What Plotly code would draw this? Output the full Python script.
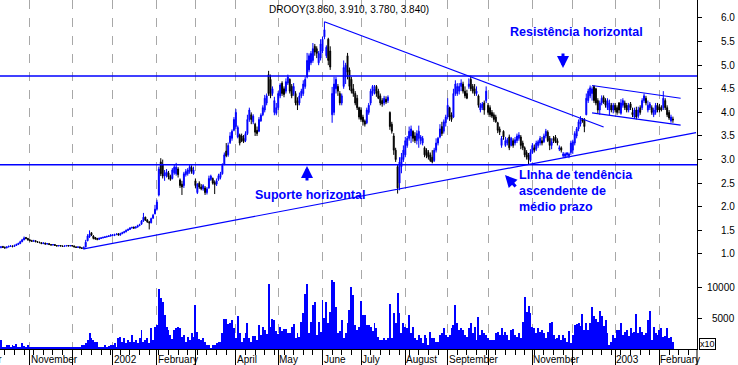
import pandas as pd
import plotly.graph_objects as go

# ---------------- data (daily bars) ----------------
start_date = "2001-10-11"
title_text = "DROOY(3.860, 3.910, 3.780, 3.840)"

open_ = [
    # Oct 2001
    1.14,1.16,1.14,1.13,1.15,1.16,1.17,1.16,1.18,1.20,1.22,1.26,1.30,1.35,1.33,
    # Nov 2001
    1.30,1.28,1.27,1.28,1.26,1.25,1.24,1.22,1.23,1.21,1.22,1.20,1.19,1.20,1.18,1.17,1.18,1.17,1.16,1.17,1.18,1.17,
    # Dec 2001
    1.18,1.17,1.15,1.14,1.15,1.13,1.11,1.15,1.28,1.36,1.45,1.38,1.35,1.33,1.31,1.33,1.34,1.35,1.36,1.37,1.38,
    # Jan 2002
    1.40,1.39,1.41,1.43,1.40,1.43,1.45,1.47,1.50,1.52,1.55,1.57,1.55,1.57,1.60,1.63,1.70,1.78,1.72,1.68,1.66,1.76,1.85,
    # Feb 2002
    1.95,2.25,2.95,2.90,2.65,2.66,2.72,2.64,2.60,2.72,2.70,2.80,2.57,2.48,2.45,2.68,2.70,2.75,2.83,2.70,
    # Mar 2002
    2.55,2.30,2.50,2.42,2.38,2.40,2.30,2.40,2.58,2.60,2.52,2.48,2.58,2.62,2.70,2.90,3.18,3.10,3.36,3.45,3.62,
    # Apr 2002
    3.70,3.48,3.52,3.50,3.45,3.40,3.55,3.85,3.95,3.80,3.75,3.62,3.60,3.82,3.95,4.05,4.20,4.80,4.70,4.40,4.00,3.98,
    # May 2002
    4.10,4.35,4.62,4.50,4.45,4.62,4.70,4.55,4.40,4.40,4.25,4.20,4.35,4.40,4.55,4.75,4.90,5.05,5.10,5.40,5.35,5.05,5.15,
    # Jun 2002
    5.30,5.60,5.20,5.55,5.30,3.95,4.00,4.50,4.55,4.40,4.20,4.55,4.75,5.20,4.90,4.70,4.50,4.40,4.30,4.10,
    # Jul 2002
    4.05,3.90,3.82,3.78,4.00,4.20,4.40,4.45,4.55,4.45,4.35,4.25,4.20,4.28,4.25,4.00,3.75,3.50,3.20,2.85,2.50,2.85,3.00,
    # Aug 2002
    3.10,3.30,3.45,3.50,3.60,3.50,3.40,3.45,3.40,3.35,3.25,3.20,3.15,3.10,3.05,2.98,3.20,3.35,3.48,3.70,3.60,3.78,
    # Sep 2002
    3.90,4.10,3.95,3.90,4.40,4.40,4.45,4.55,4.60,4.45,4.40,4.55,4.70,4.55,4.50,4.40,4.35,4.05,4.10,4.20,4.25,
    # Oct 2002
    4.15,4.10,4.00,3.95,3.90,3.78,3.65,3.30,3.60,3.30,3.35,3.48,3.30,3.40,3.35,3.40,3.45,3.48,3.35,3.25,3.15,3.10,2.98,
    # Nov 2002
    3.15,3.25,3.22,3.30,3.35,3.40,3.38,3.50,3.58,3.45,3.30,3.45,3.48,3.40,3.22,3.25,3.08,3.07,3.10,3.08,3.15,
    # Dec 2002
    3.20,3.35,3.50,3.65,3.75,3.85,3.85,3.95,4.25,4.35,4.40,4.55,4.50,4.25,4.05,4.20,4.32,4.25,4.10,4.05,4.15,4.05,
    # Jan 2003
    4.15,4.10,4.20,3.98,4.15,4.20,4.15,4.05,4.18,4.00,3.90,4.05,3.92,4.10,4.10,4.25,4.30,4.05,4.10,4.10,3.95,4.00,4.15,
    # Feb 2003
    4.12,4.10,4.10,4.25,4.10,4.00,3.82,3.86,
]

high = [
    1.17,1.17,1.16,1.16,1.18,1.19,1.18,1.20,1.22,1.24,1.28,1.32,1.37,1.36,1.34,
    1.31,1.30,1.30,1.29,1.27,1.26,1.25,1.25,1.24,1.23,1.23,1.21,1.21,1.21,1.19,1.19,1.19,1.18,1.18,1.19,1.19,1.19,
    1.19,1.18,1.16,1.16,1.16,1.14,1.16,1.30,1.42,1.50,1.46,1.40,1.36,1.34,1.35,1.36,1.37,1.38,1.39,1.40,1.42,
    1.42,1.43,1.44,1.44,1.45,1.47,1.49,1.52,1.54,1.57,1.58,1.58,1.59,1.62,1.64,1.72,1.87,1.79,1.74,1.70,1.77,1.85,2.04,
    2.15,2.85,3.03,3.00,2.78,2.80,2.76,2.68,2.82,2.90,2.93,2.84,2.60,2.55,2.74,2.80,2.82,2.90,2.88,2.85,
    2.60,2.50,2.54,2.48,2.48,2.44,2.42,2.66,2.68,2.62,2.56,2.60,2.70,2.74,2.92,3.15,3.35,3.36,3.58,3.64,3.90,
    4.07,3.72,3.55,3.55,3.52,3.60,3.95,4.10,4.00,3.96,3.78,3.70,3.90,3.98,4.15,4.37,4.40,4.88,4.80,4.55,4.33,4.20,
    4.45,4.62,4.66,4.55,4.72,4.80,4.72,4.60,4.62,4.45,4.32,4.42,4.50,4.68,4.75,5.26,5.25,5.30,5.47,5.45,5.40,5.30,5.55,
    5.60,5.92,5.42,5.58,5.40,4.54,4.75,4.75,4.60,4.45,4.40,5.10,5.05,5.26,4.95,4.75,4.60,4.45,4.37,4.12,
    4.11,3.95,3.85,4.10,4.20,4.50,4.58,4.58,4.58,4.50,4.40,4.30,4.35,4.34,4.36,4.02,3.80,3.56,3.25,2.90,3.05,3.14,3.30,
    3.48,3.50,3.70,3.72,3.62,3.58,3.62,3.72,3.52,3.50,3.28,3.24,3.20,3.15,3.20,3.25,3.45,3.48,3.75,3.80,3.85,3.95,
    4.30,4.12,4.00,4.50,4.68,4.62,4.62,4.70,4.65,4.55,4.48,4.72,4.78,4.60,4.60,4.55,4.38,4.20,4.22,4.25,4.55,
    4.20,4.15,4.05,4.00,3.95,3.80,3.70,3.50,3.62,3.48,3.46,3.53,3.48,3.45,3.48,3.55,3.58,3.52,3.40,3.28,3.20,3.14,3.22,
    3.35,3.32,3.40,3.42,3.50,3.48,3.55,3.65,3.62,3.50,3.45,3.50,3.52,3.45,3.30,3.28,3.16,3.15,3.16,3.15,3.40,
    3.42,3.60,3.69,3.85,3.92,3.88,3.88,4.40,4.50,4.57,4.55,4.57,4.52,4.30,4.25,4.36,4.36,4.30,4.30,4.27,4.20,4.20,
    4.20,4.15,4.22,4.28,4.30,4.25,4.20,4.20,4.22,4.10,4.10,4.12,4.12,4.15,4.30,4.40,4.35,4.25,4.22,4.15,4.10,4.20,4.20,
    4.18,4.15,4.45,4.30,4.15,4.05,3.95,3.91,
]

low = [
    1.12,1.13,1.11,1.12,1.14,1.15,1.14,1.15,1.17,1.19,1.21,1.25,1.29,1.31,1.28,
    1.27,1.26,1.26,1.25,1.24,1.23,1.21,1.21,1.20,1.20,1.19,1.18,1.18,1.17,1.16,1.16,1.16,1.15,1.15,1.16,1.16,1.16,
    1.16,1.14,1.13,1.13,1.12,1.11,1.10,1.14,1.27,1.34,1.38,1.31,1.30,1.29,1.30,1.32,1.33,1.34,1.35,1.36,1.37,
    1.38,1.38,1.40,1.39,1.39,1.42,1.44,1.46,1.49,1.51,1.54,1.53,1.54,1.56,1.59,1.62,1.68,1.70,1.66,1.52,1.65,1.74,1.84,
    1.92,2.22,2.65,2.60,2.55,2.62,2.58,2.55,2.58,2.68,2.66,2.62,2.40,2.25,2.40,2.64,2.66,2.70,2.70,2.68,
    2.40,2.27,2.38,2.35,2.34,2.25,2.26,2.38,2.55,2.47,2.27,2.44,2.55,2.58,2.68,2.88,3.05,3.06,3.33,3.40,3.60,
    3.65,3.45,3.30,3.37,3.35,3.37,3.52,3.80,3.75,3.75,3.50,3.50,3.58,3.80,3.92,4.00,4.15,4.35,4.30,4.35,3.94,3.94,
    4.05,4.30,4.35,4.32,4.40,4.58,4.40,4.30,4.35,4.15,4.05,4.15,4.30,4.35,4.50,4.72,4.85,5.00,5.05,5.20,5.15,5.00,5.10,
    5.25,5.55,5.15,5.00,4.90,3.78,3.94,4.40,4.35,4.15,4.15,4.50,4.60,4.70,4.47,4.40,4.33,4.15,4.05,3.85,
    3.80,3.72,3.70,3.75,3.95,4.15,4.35,4.38,4.33,4.28,4.15,4.12,4.15,4.18,4.20,3.63,3.55,3.10,2.95,2.28,2.35,2.71,2.95,
    3.05,3.25,3.40,3.35,3.38,3.35,3.32,3.25,3.32,3.30,3.05,3.03,3.00,2.95,2.92,2.95,3.15,3.30,3.45,3.50,3.55,3.70,
    3.85,3.82,3.80,3.88,4.35,4.35,4.38,4.45,4.40,4.30,4.28,4.50,4.45,4.40,4.35,4.35,4.10,4.00,4.05,3.95,4.20,
    3.95,3.90,3.88,3.80,3.78,3.56,3.52,3.25,3.42,3.27,3.30,3.20,3.28,3.25,3.30,3.35,3.40,3.22,3.20,3.05,3.00,2.90,2.95,
    3.12,3.15,3.18,3.25,3.30,3.30,3.35,3.45,3.37,3.20,3.22,3.35,3.35,3.30,3.18,3.15,3.04,3.03,3.05,3.03,3.10,
    3.12,3.30,3.45,3.60,3.70,3.78,3.58,3.94,4.20,4.30,4.25,4.20,4.15,3.98,3.95,4.15,4.18,4.10,4.05,3.94,4.00,3.98,
    4.00,3.95,3.98,3.95,4.10,4.05,4.00,4.00,4.05,3.90,3.86,3.85,3.88,3.95,4.05,4.20,4.15,4.00,4.05,3.95,3.90,3.95,4.00,
    4.00,4.02,4.05,4.05,3.90,3.84,3.78,3.78,
]

close = [
    1.15,1.14,1.13,1.15,1.16,1.17,1.16,1.18,1.20,1.22,1.26,1.30,1.34,1.33,1.30,
    1.28,1.27,1.28,1.26,1.25,1.24,1.22,1.23,1.21,1.22,1.20,1.19,1.20,1.18,1.17,1.18,1.17,1.16,1.17,1.18,1.17,1.18,
    1.17,1.15,1.14,1.15,1.13,1.12,1.14,1.25,1.38,1.42,1.40,1.33,1.32,1.31,1.33,1.34,1.35,1.36,1.37,1.38,1.40,
    1.40,1.41,1.42,1.40,1.43,1.45,1.47,1.50,1.52,1.55,1.56,1.55,1.57,1.60,1.62,1.70,1.78,1.72,1.68,1.66,1.75,1.82,1.95,
    2.10,2.80,2.70,2.65,2.72,2.74,2.63,2.58,2.78,2.84,2.84,2.68,2.45,2.42,2.70,2.75,2.78,2.85,2.75,2.78,
    2.45,2.48,2.42,2.38,2.45,2.30,2.38,2.60,2.65,2.50,2.47,2.55,2.66,2.70,2.88,3.10,3.08,3.30,3.50,3.60,3.85,
    4.00,3.68,3.35,3.40,3.38,3.55,3.85,4.05,3.85,3.92,3.58,3.55,3.85,3.94,4.10,4.30,4.35,4.40,4.35,4.50,4.25,4.10,
    4.40,4.58,4.40,4.38,4.65,4.75,4.45,4.35,4.55,4.20,4.15,4.35,4.45,4.60,4.70,5.10,5.20,5.25,5.35,5.28,5.25,5.25,5.45,
    5.55,5.75,5.38,5.10,4.96,4.40,4.60,4.70,4.45,4.20,4.35,4.95,5.00,4.85,4.55,4.45,4.40,4.20,4.10,3.90,
    3.85,3.80,3.75,4.05,4.15,4.45,4.55,4.50,4.40,4.30,4.20,4.18,4.30,4.22,4.32,3.70,3.60,3.20,3.00,2.40,2.95,3.05,3.20,
    3.40,3.45,3.60,3.65,3.45,3.40,3.55,3.60,3.48,3.45,3.10,3.08,3.05,2.98,2.95,3.20,3.35,3.45,3.65,3.55,3.80,3.90,
    4.15,3.90,3.85,4.40,4.60,4.55,4.55,4.62,4.45,4.35,4.30,4.60,4.50,4.45,4.40,4.45,4.15,4.15,4.18,4.05,4.45,
    4.00,3.95,3.92,3.85,3.80,3.62,3.58,3.45,3.48,3.40,3.42,3.25,3.45,3.30,3.42,3.50,3.52,3.30,3.25,3.10,3.05,3.00,3.15,
    3.30,3.20,3.35,3.38,3.45,3.35,3.50,3.60,3.40,3.30,3.38,3.40,3.38,3.35,3.25,3.20,3.12,3.12,3.14,3.12,3.35,
    3.38,3.55,3.65,3.80,3.88,3.82,3.70,4.30,4.45,4.52,4.50,4.25,4.20,4.05,4.20,4.30,4.22,4.15,4.25,4.20,4.05,4.15,
    4.05,4.00,4.05,4.20,4.25,4.10,4.05,4.15,4.10,3.95,4.05,3.90,4.05,4.00,4.25,4.35,4.20,4.15,4.18,4.00,4.05,4.15,4.05,
    4.05,4.05,4.30,4.10,3.95,3.88,3.90,3.84,
]

volume = [
    1400,400,300,600,700,400,600,500,900,400,300,1000,500,400,700,
    300,350,250,200,300,250,400,300,250,350,300,250,350,300,250,400,300,350,250,300,350,300,
    380,380,200,200,380,650,650,1000,1500,2700,1750,1500,1200,1200,380,200,380,650,250,500,650,
    650,930,380,1750,2000,1200,1750,1000,1500,1200,2300,1200,1500,930,1750,3100,1200,1500,1750,930,3400,1500,3650,
    3900,9800,8300,7750,5570,3660,3100,2300,1580,3100,3400,3660,3400,2000,2300,1200,2000,1500,2700,2000,
    7200,2840,1580,1470,1750,1200,650,650,150,650,650,930,1200,1200,2570,4860,4860,4040,4200,4750,3400,
    1750,5400,2570,1200,1750,2570,4200,1750,1200,2130,2130,1500,3930,2300,3660,3100,2500,10650,3660,4860,4750,3000,
    2500,3660,3000,3220,3220,2570,2570,3660,4040,1750,2570,2000,4480,5840,9000,10650,2570,4480,7200,7750,2300,4480,2840,
    8000,5000,7750,4200,6100,11300,11000,6930,2570,3000,4750,1750,2570,4200,6390,10200,8850,4000,3100,3660,
    7900,5570,5570,3930,3930,3660,3000,4200,3500,2000,1470,1470,1750,1470,1750,7370,1750,5840,4200,9100,5840,2570,4200,
    3660,3400,5570,2570,3660,1750,1470,2300,1750,930,2300,1750,650,2840,1750,1750,1200,1200,2300,2570,3400,2300,
    2000,2300,3400,3930,7200,4200,3100,3400,3100,2300,2000,3400,4200,2570,3660,1470,5300,2300,3100,2570,2300,
    1750,1470,1470,1470,2570,2840,2300,3400,2300,2840,2300,1470,3100,3220,2300,2000,2570,1750,4480,8570,6100,7040,5840,
    3660,3400,2570,3400,2840,3100,2570,1750,2840,4200,4480,2300,1580,1750,2300,1470,2300,1750,1200,3000,1040,
    2300,3930,4040,4200,3770,5680,3100,4200,3100,4200,6930,5400,4860,4480,6220,5400,3770,4750,2570,650,1200,2300,
    1750,3100,3100,4300,2300,2840,3100,2130,3400,2570,2840,5680,2570,3660,2840,2300,2570,4750,6280,1470,3660,2570,2300,
    3100,3500,2000,2200,3400,1750,1900,1200,
]

# horizontal support / resistance levels
resistance_level = 4.77
support_level = 2.89

# trend lines (date, price)
down_trend_dates = ["2002-06-04", "2002-12-24"]
down_trend_prices = [5.92, 3.69]
up_trend_dates = ["2001-12-11", "2003-02-28"]
up_trend_prices = [1.11, 3.57]
flag_dates = ["2002-12-16", "2003-02-18"]
flag_top_prices = [4.57, 4.30]
flag_bottom_prices = [3.99, 3.73]

# axis ticks / labels
month_labels = ["November", "", "2002", "February", "", "April", "May", "June", "July",
                "August", "September", "", "November", "", "2003", "February"]
price_ticks = [1.0, 1.5, 2.0, 2.5, 3.0, 3.5, 4.0, 4.5, 5.0, 5.5, 6.0]
volume_ticks = [5000, 10000]
x_range = ["2001-10-10 12:00", "2003-02-28 12:00"]
price_range = [-1.013, 6.381]
volume_range = [0, 57200]

# ---------------- figure ----------------
W, H = 738, 365
ML, MR, MT, MB = 0, 41, 0, 16
PW, PH = W - ML - MR, H - MT - MB
BLUE = "#0000FF"
FONT = "Liberation Sans, Arial, sans-serif"

dates = pd.bdate_range(start_date, periods=len(close))
month_starts = pd.date_range("2001-11-01", "2003-02-28", freq="BMS")
weekly = pd.date_range("2001-10-15", "2003-02-28", freq="W-MON")


def px(xp):
    return xp / PW


def py(yp):
    return 1 - yp / PH


fig = go.Figure()

fig.add_trace(go.Candlestick(
    x=dates, open=open_, high=high, low=low, close=close,
    increasing=dict(line=dict(color=BLUE, width=1), fillcolor=BLUE),
    decreasing=dict(line=dict(color="#000000", width=1), fillcolor="#000000"),
    whiskerwidth=0, showlegend=False, hoverinfo="skip", yaxis="y",
))

fig.add_trace(go.Bar(
    x=dates, y=volume, yaxis="y2", width=0.5 * 86400000,
    marker=dict(color=BLUE, line=dict(width=0)),
    showlegend=False, hoverinfo="skip",
))

for d, p in [(down_trend_dates, down_trend_prices),
             (up_trend_dates, up_trend_prices),
             (flag_dates, flag_top_prices),
             (flag_dates, flag_bottom_prices)]:
    fig.add_trace(go.Scatter(x=d, y=p, mode="lines", line=dict(color=BLUE, width=1.2),
                             showlegend=False, hoverinfo="skip", yaxis="y"))

shapes = [
    dict(type="line", xref="paper", x0=0, x1=1, yref="y", y0=resistance_level, y1=resistance_level,
         line=dict(color=BLUE, width=1.5), layer="above"),
    dict(type="line", xref="paper", x0=0, x1=1, yref="y", y0=support_level, y1=support_level,
         line=dict(color=BLUE, width=1.5), layer="above"),
    dict(type="line", xref="paper", x0=1, x1=1, yref="paper", y0=-0.06, y1=0,
         line=dict(color="black", width=1)),
]

ann = []
# title
ann.append(dict(text=title_text, x=0.5, y=py(9.5), xref="paper", yref="paper", showarrow=False,
                font=dict(family=FONT, size=10, color="black"), xanchor="center", yanchor="middle"))
# month labels
for d, t in zip(month_starts, month_labels):
    if t:
        ann.append(dict(text=t, x=d, xref="x", y=py(359.5), yref="paper", showarrow=False,
                        xanchor="left", yanchor="middle", xshift=-1,
                        font=dict(family=FONT, size=10, color="black")))
ann.append(dict(text="October", x=px(4), xref="paper", y=py(359.5), yref="paper", showarrow=False,
                xanchor="right", yanchor="middle", font=dict(family=FONT, size=10, color="black")))
# right axis labels
for v in price_ticks:
    ann.append(dict(text=f"{v:.1f}", x=px(737), xref="paper", y=v, yref="y", showarrow=False,
                    xanchor="right", yanchor="middle", font=dict(family=FONT, size=10, color="black")))
for v in volume_ticks:
    ann.append(dict(text=str(v), x=px(737), xref="paper", y=v, yref="y2", showarrow=False,
                    xanchor="right", yanchor="middle", font=dict(family=FONT, size=10, color="black")))
ann.append(dict(text="x10", x=px(699), xref="paper", y=py(344), yref="paper", showarrow=False,
                xanchor="left", yanchor="middle", bordercolor="black", borderwidth=1, borderpad=0,
                font=dict(family=FONT, size=9, color="black")))


def blue_text(t, xl, yc):
    return dict(text=f"<b>{t}</b>", x=px(xl), y=py(yc), xref="paper", yref="paper", showarrow=False,
                xanchor="left", yanchor="middle", font=dict(family=FONT, size=12.5, color=BLUE))


ann.append(blue_text("Resistência horizontal", 508, 31.5))
ann.append(blue_text("Suporte horizontal", 253, 195))
ann.append(blue_text("LInha de tendência", 517, 175))
ann.append(blue_text("ascendente de", 517, 191))
ann.append(blue_text("médio prazo", 517, 207))


def arrow(xt, yt, dx, dy):
    return dict(x=px(xt), y=py(yt), xref="paper", yref="paper", text="", showarrow=True,
                ax=dx, ay=dy, arrowhead=2, arrowsize=0.8, arrowwidth=3, arrowcolor=BLUE, standoff=0)


ann.append(arrow(563, 68, 0, -16))
ann.append(arrow(307, 166, 0, 16))
ann.append(arrow(505, 175, 12, 13))

fig.update_layout(
    width=W, height=H, margin=dict(l=ML, r=MR, t=MT, b=MB),
    paper_bgcolor="white", plot_bgcolor="white",
    showlegend=False, bargap=0,
    xaxis=dict(
        type="date", range=x_range, rangebreaks=[dict(bounds=["sat", "mon"])],
        rangeslider=dict(visible=False),
        tickmode="array", tickvals=month_starts, showticklabels=False,
        ticks="outside", ticklen=16, tickcolor="black", tickwidth=1,
        showgrid=True, gridcolor="#A8A8A8", griddash="dash", gridwidth=1,
        showline=True, linecolor="black", linewidth=1, zeroline=False,
        minor=dict(tickmode="array", tickvals=weekly, ticks="outside", ticklen=5,
                   tickcolor="black", showgrid=False),
    ),
    yaxis=dict(
        range=price_range, side="right", showgrid=False, zeroline=False,
        tickmode="array", tickvals=price_ticks, showticklabels=False,
        ticks="outside", ticklen=4, tickcolor="black",
        showline=True, linecolor="black", linewidth=1,
    ),
    yaxis2=dict(
        range=volume_range, side="right", overlaying="y", anchor="x",
        showgrid=False, zeroline=False, tickmode="array", tickvals=volume_ticks,
        showticklabels=False, ticks="outside", ticklen=4, tickcolor="black", showline=False,
    ),
    shapes=shapes, annotations=ann,
)

fig.write_html("out.html", config={"displayModeBar": False},
               post_script="document.body.style.margin='0';document.body.style.overflow='hidden';")
